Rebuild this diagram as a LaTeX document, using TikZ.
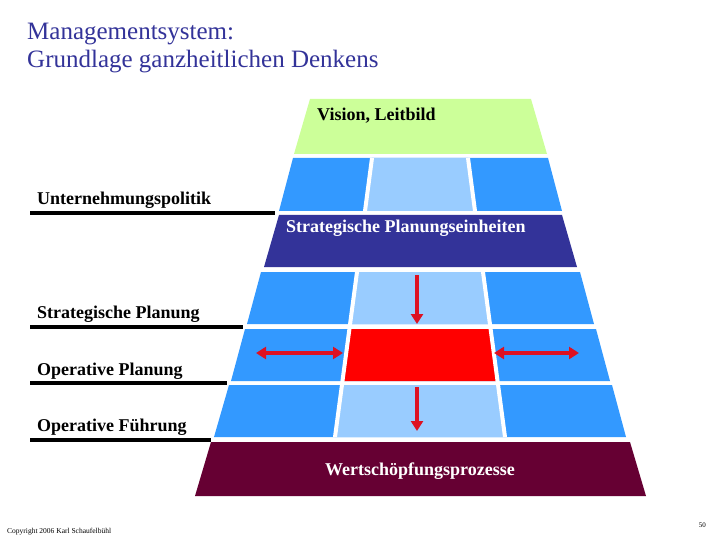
\documentclass[tikz,border=0pt]{standalone}
\usepackage{fontspec}
\setmainfont{Liberation Serif}
\usepackage{tikz}
\usetikzlibrary{arrows.meta}

\definecolor{titleblue}{RGB}{51,51,153}
\definecolor{leafgreen}{RGB}{204,255,153}
\definecolor{cellblue}{RGB}{51,153,255}
\definecolor{paleblue}{RGB}{153,204,255}
\definecolor{darkblue}{RGB}{51,51,153}
\definecolor{wine}{RGB}{102,0,51}
\definecolor{arrowred}{RGB}{221,17,34}

\tikzset{
    lbl/.style={anchor=base west, inner sep=0pt, font=\bfseries\fontsize{18}{20}\selectfont},
    rule/.style={line width=3.5pt, black},
    divider/.style={line width=4pt, white},
    redarrow/.style={line width=3.5pt, arrowred, -{Triangle[length=10pt, width=12pt]}},
    redboth/.style={line width=3.5pt, arrowred, {Triangle[length=10pt, width=12pt]}-{Triangle[length=10pt, width=12pt]}}
}

\begin{document}
\begin{tikzpicture}[x=1pt, y=-1pt]
    \useasboundingbox[fill=white] (0,0) rectangle (720,540);

    \node[anchor=base west, inner sep=0pt, titleblue, font=\fontsize{25}{28}\selectfont] (title) at (27,40) {Managementsystem:};
    \node[anchor=base west, inner sep=0pt, titleblue, font=\fontsize{25}{28}\selectfont] (subtitle) at (27,68) {Grundlage ganzheitlichen Denkens};

    \fill[leafgreen] (310,99) -- (531,99) -- (547,154) -- (294,154) -- cycle;
    \fill[cellblue] (293,158) -- (548,158) -- (562,211) -- (279,211) -- cycle;
    \fill[paleblue] (372,158) -- (468,158) -- (475,211) -- (365,211) -- cycle;
    \fill[darkblue] (279,215) -- (562,215) -- (577,267) -- (264,267) -- cycle;
    \fill[cellblue] (261,272) -- (580,272) -- (594,324) -- (247,324) -- cycle;
    \fill[paleblue] (357,272) -- (483,272) -- (490,324) -- (350,324) -- cycle;
    \fill[cellblue] (245,329) -- (596,329) -- (610,381) -- (231,381) -- cycle;
    \fill[red] (349,329) -- (491,329) -- (498,381) -- (342,381) -- cycle;
    \fill[cellblue] (229,385) -- (612,385) -- (626,437) -- (214,437) -- cycle;
    \fill[paleblue] (342,385) -- (498,385) -- (505,437) -- (335,437) -- cycle;
    \fill[wine] (211,442) -- (630,442) -- (646,496) -- (195,496) -- cycle;

    \draw[divider] (372,158) -- (365,211);
    \draw[divider] (468,158) -- (475,211);
    \draw[divider] (357,272) -- (335,437);
    \draw[divider] (483,272) -- (505,437);

    \node[lbl] (vision) at (317,121) {Vision, Leitbild};
    \node[lbl, white] (spe) at (286,233) {Strategische Planungseinheiten};
    \node[lbl, white, anchor=base] (wsp) at (420,475) {Wertschöpfungsprozesse};

    \node[lbl] (upol) at (37,205) {Unternehmungspolitik};
    \draw[rule] (30,213) -- (275,213);
    \node[lbl] (splan) at (37,318) {Strategische Planung};
    \draw[rule] (30,327) -- (243,327);
    \node[lbl] (oplan) at (37,375) {Operative Planung};
    \draw[rule] (30,383) -- (227,383);
    \node[lbl] (ofuehr) at (37,431) {Operative Führung};
    \draw[rule] (30,440) -- (211,440);

    \coordinate (downA) at (417,275);
    \coordinate (downAend) at (417,324);
    \coordinate (downB) at (417,387);
    \coordinate (downBend) at (417,431);
    \coordinate (leftA) at (256,353);
    \coordinate (leftB) at (343,353);
    \coordinate (rightA) at (494,353);
    \coordinate (rightB) at (579,353);
    \draw[redarrow] (downA) -- (downAend);
    \draw[redarrow] (downB) -- (downBend);
    \draw[redboth] (leftA) -- (leftB);
    \draw[redboth] (rightA) -- (rightB);

    \node[anchor=base west, inner sep=0pt, font=\fontsize{7.5}{8}\selectfont] (copy) at (7,533) {Copyright 2006 Karl Schaufelbühl};
    \node[anchor=base east, inner sep=0pt, font=\fontsize{7}{8}\selectfont] (pagenr) at (706,527) {50};
\end{tikzpicture}
\end{document}
